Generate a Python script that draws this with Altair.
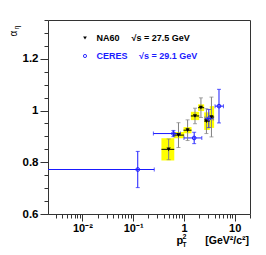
import altair as alt
import pandas as pd

# ---- data ----
na60_x = [0.50, 0.78, 1.18, 1.65, 2.16, 2.77, 3.48]
na60_y = [0.850, 0.905, 0.924, 0.979, 1.011, 0.959, 0.975]
na60_stat = [0.040, 0.048, 0.040, 0.030, 0.038, 0.048, 0.077]
na60_sys = [0.043, 0.012, 0.012, 0.016, 0.013, 0.034, 0.042]
na60_xlo = [0.36, 0.625, 0.98, 1.37, 1.90, 2.50, 3.23]
na60_xhi = [0.645, 1.01, 1.41, 2.00, 2.50, 3.23, 3.93]

ceres_x = [0.123, 0.62, 1.59, 3.09, 4.9]
ceres_y = [0.772, 0.911, 0.894, 0.969, 1.017]
ceres_yerr = [0.070, 0.012, 0.022, 0.035, 0.065]
ceres_xlo = [0.0005, 0.25, 1.0, 2.6, 4.1]
ceres_xhi = [0.26, 0.85, 2.25, 3.76, 6.0]

x_ticks = [0.01, 0.1, 1, 10]
x_tick_labels = ["10⁻²", "10⁻¹", "1", "10"]
x_minor = [m * 10 ** k for k in range(-3, 2) for m in range(2, 10)]
x_minor = [v for v in x_minor if 0.0021 <= v <= 20]
y_ticks = [0.6, 0.8, 1.0, 1.2]
y_minor = [round(0.6 + 0.05 * i, 2) for i in range(0, 16)]

legend_names = ["NA60", "CERES"]
legend_energies = ["√s = 27.5 GeV", "√s = 29.1 GeV"]

BLUE = "#1a1aff"
FONT = "Liberation Sans"

na60 = pd.DataFrame(dict(x=na60_x, y=na60_y, stat=na60_stat, sys=na60_sys,
                         xlo=na60_xlo, xhi=na60_xhi))
na60["slo"] = na60.y - na60.stat
na60["shi"] = na60.y + na60.stat
na60["blo"] = na60.y - na60.sys
na60["bhi"] = na60.y + na60.sys

ceres = pd.DataFrame(dict(x=ceres_x, y=ceres_y, e=ceres_yerr, xlo=ceres_xlo, xhi=ceres_xhi))
ceres["ylo"] = ceres.y - ceres.e
ceres["yhi"] = ceres.y + ceres.e

xs = alt.Scale(type="log", domain=[0.0021, 20], nice=False)
ys = alt.Scale(domain=[0.6, 1.35], nice=False, zero=False)

label_expr = " : ".join(
    f"datum.value > {v*0.5} && datum.value < {v*2} ? '{l}'" for v, l in zip(x_ticks, x_tick_labels)
) + " : ''"

x_major_axis = alt.Axis(values=x_ticks, labelExpr=label_expr, tickSize=7, orient="bottom",
                        domain=False, grid=False, title=None, labelFont=FONT, labelFontWeight="bold",
                        labelFontSize=11, labelPadding=1, tickColor="#333", labelColor="#000",
                        labelFlush=False, labelOverlap=False)
x_minor_axis = alt.Axis(values=x_minor, labels=False, tickSize=4, orient="bottom", domain=False,
                        grid=False, title=None, tickColor="#333")
y_major_axis = alt.Axis(values=y_ticks, format=".1~f", tickSize=8, orient="left", domain=False,
                        grid=False, title=None, labelFont=FONT, labelFontWeight="bold",
                        labelFontSize=11.5, labelPadding=2, tickColor="#333", labelColor="#000")
y_minor_axis = alt.Axis(values=y_minor, labels=False, tickSize=4, orient="left", domain=False,
                        grid=False, title=None, tickColor="#333")

boxes = alt.Chart(na60).mark_rect(color="#ffff00").encode(
    x=alt.X("xlo:Q", scale=xs, axis=x_major_axis),
    x2="xhi:Q",
    y=alt.Y("blo:Q", scale=ys, axis=y_major_axis),
    y2="bhi:Q",
)

stat = alt.Chart(na60).mark_rule(color="#808080", strokeWidth=1).encode(
    x=alt.X("x:Q", scale=xs, axis=x_minor_axis),
    y=alt.Y("slo:Q", scale=ys, axis=y_minor_axis),
    y2="shi:Q",
)
stat_caps_lo = alt.Chart(na60).mark_tick(color="#808080", orient="horizontal", size=4, thickness=1).encode(
    x=alt.X("x:Q", scale=xs, axis=None), y=alt.Y("slo:Q", scale=ys, axis=None))
stat_caps_hi = alt.Chart(na60).mark_tick(color="#808080", orient="horizontal", size=4, thickness=1).encode(
    x=alt.X("x:Q", scale=xs, axis=None), y=alt.Y("shi:Q", scale=ys, axis=None))

na60_h = alt.Chart(na60).mark_rule(color="#000", strokeWidth=1).encode(
    x=alt.X("xlo:Q", scale=xs, axis=None), x2="xhi:Q",
    y=alt.Y("y:Q", scale=ys, axis=None))

na60_pts = alt.Chart(na60).mark_point(shape="triangle-down", filled=True, color="#000", size=18, opacity=1).encode(
    x=alt.X("x:Q", scale=xs, axis=None), y=alt.Y("y:Q", scale=ys, axis=None))

ceres_v = alt.Chart(ceres).mark_rule(color=BLUE, strokeWidth=1).encode(
    x=alt.X("x:Q", scale=xs, axis=None), y=alt.Y("ylo:Q", scale=ys, axis=None), y2="yhi:Q")
ceres_h = alt.Chart(ceres).mark_rule(color=BLUE, strokeWidth=1, clip=True).encode(
    x=alt.X("xlo:Q", scale=xs, axis=None), x2="xhi:Q", y=alt.Y("y:Q", scale=ys, axis=None))
ceres_caps = alt.layer(
    alt.Chart(ceres).mark_tick(color=BLUE, orient="horizontal", size=4, thickness=1).encode(
        x=alt.X("x:Q", scale=xs, axis=None), y=alt.Y("ylo:Q", scale=ys, axis=None)),
    alt.Chart(ceres).mark_tick(color=BLUE, orient="horizontal", size=4, thickness=1).encode(
        x=alt.X("x:Q", scale=xs, axis=None), y=alt.Y("yhi:Q", scale=ys, axis=None)),
    alt.Chart(ceres).mark_tick(color=BLUE, orient="vertical", size=4, thickness=1, clip=True).encode(
        x=alt.X("xlo:Q", scale=xs, axis=None), y=alt.Y("y:Q", scale=ys, axis=None)),
    alt.Chart(ceres).mark_tick(color=BLUE, orient="vertical", size=4, thickness=1).encode(
        x=alt.X("xhi:Q", scale=xs, axis=None), y=alt.Y("y:Q", scale=ys, axis=None)),
)
ceres_pts = alt.Chart(ceres).mark_point(shape="circle", filled=False, color=BLUE, size=14,
                                         strokeWidth=1, opacity=1).encode(
    x=alt.X("x:Q", scale=xs, axis=None), y=alt.Y("y:Q", scale=ys, axis=None))

# ---- legend ----
def txt(s, x, y, color="#000", size=9, align="left", weight="bold", baseline="middle", angle=0):
    return alt.Chart(pd.DataFrame({"t": [s]})).mark_text(
        align=align, baseline=baseline, font=FONT, fontSize=size, fontWeight=weight,
        color=color, angle=angle).encode(x=alt.value(x), y=alt.value(y), text="t:N")

leg_tri = alt.Chart(pd.DataFrame({"t": [legend_names[0]]})).mark_point(
    shape="triangle-down", filled=True, color="#000", size=14, opacity=1).encode(
    x=alt.value(37), y=alt.value(18))
leg_circ = alt.Chart(pd.DataFrame({"t": [legend_names[1]]})).mark_point(
    shape="circle", filled=False, color=BLUE, size=10, strokeWidth=0.9, opacity=1).encode(
    x=alt.value(37), y=alt.value(36))

texts = [
    txt(legend_names[0], 48.5, 18),
    txt(legend_energies[0], 83.5, 18),
    txt(legend_names[1], 48.5, 36, color=BLUE),
    txt(legend_energies[1], 91, 36, color=BLUE),
    # y title alpha_eta
    txt("α", -34, 13.5, size=10, align="center", weight="normal", angle=270),
    txt("η", -31.5, 7.5, size=6.5, align="center", weight="normal", angle=270),
    # x title p_T^2 [GeV^2/c^2]
    txt("p", 128.5, 223.5, size=11, baseline="alphabetic"),
    txt("2", 134.5, 218.5, size=7, baseline="alphabetic"),
    txt("T", 134.5, 227, size=6.5, baseline="alphabetic"),
    txt("[GeV²/c²]", 201, 223.5, size=10.5, align="right", baseline="alphabetic"),
]

chart = alt.layer(
    boxes, ceres_v, ceres_h, ceres_caps, stat, stat_caps_lo, stat_caps_hi, na60_h,
    na60_pts, ceres_pts, leg_tri, leg_circ, *texts
).resolve_axis(x="independent", y="independent").properties(
    width=202, height=194,
    autosize=alt.AutoSizeParams(type="none"),
    padding={"left": 40, "top": 12, "right": 8, "bottom": 33},
    background="white",
).configure_view(stroke="#333", strokeWidth=1)

chart.save("out.html", embed_options={"renderer": "svg", "actions": False})
